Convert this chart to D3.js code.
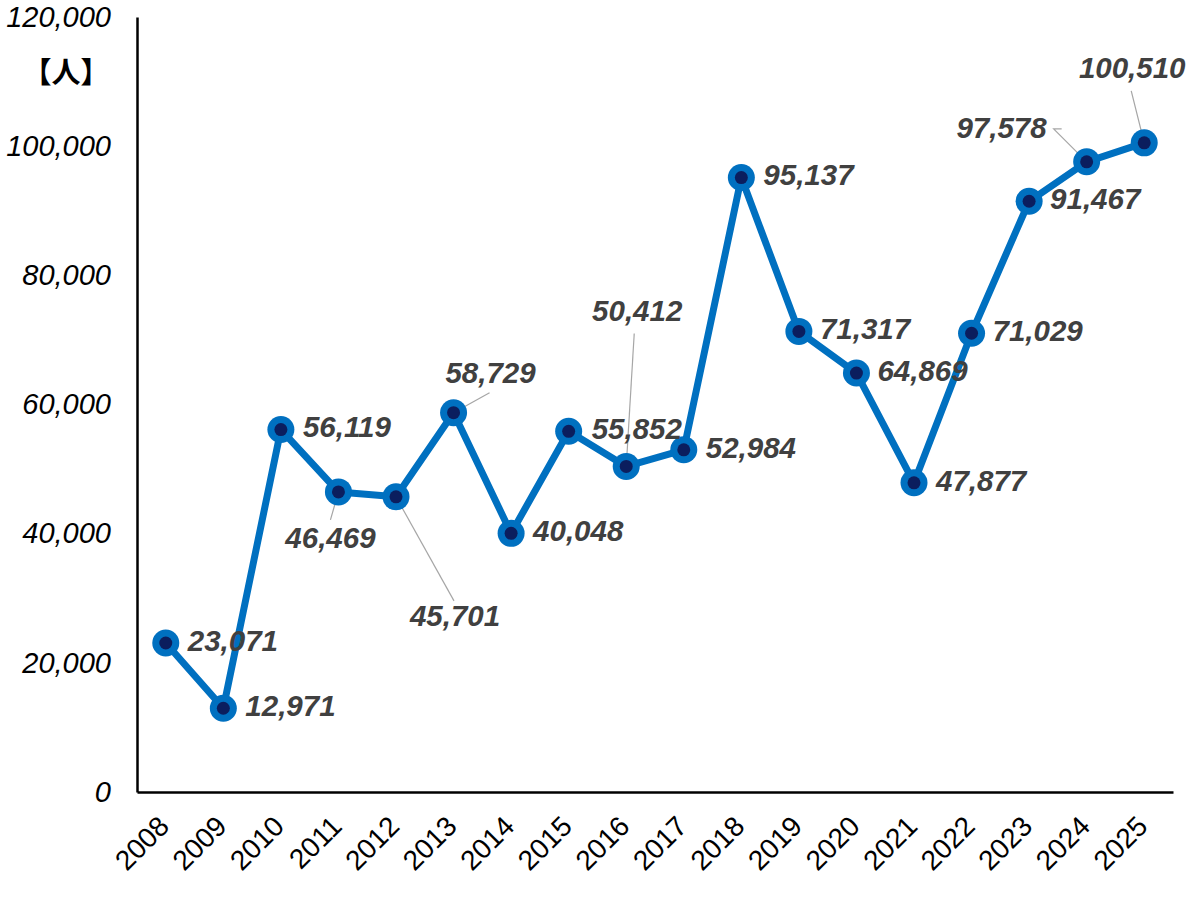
<!DOCTYPE html>
<html>
<head>
<meta charset="utf-8">
<script src="https://cdn.jsdelivr.net/npm/d3@7"></script>
<style>
  body { margin: 0; background: #fff; }
  svg { display: block; }
</style>
</head>
<body>
<div id="chart"></div>
<script>
const years = ["2008","2009","2010","2011","2012","2013","2014","2015","2016","2017","2018","2019","2020","2021","2022","2023","2024","2025"];
const visitors = [23071, 12971, 56119, 46469, 45701, 58729, 40048, 55852, 50412, 52984, 95137, 71317, 64869, 47877, 71029, 91467, 97578, 100510];
const yTicks = [0, 20000, 40000, 60000, 80000, 100000, 120000];
const unitLabel = "【人】";

// label placement, px offset from each point (layout only)
const labelPlace = [
  { dx: 22, dy: 0 }, { dx: 22, dy: 0 }, { dx: 22, dy: 0 },
  { dx: -8, dy: 48, anchor: "middle", leader: [-8, 28] },
  { dx: 59, dy: 121, anchor: "middle", leader: [58, 104] },
  { dx: 37, dy: -38, anchor: "middle", leader: [36, -20] },
  { dx: 22, dy: 0 }, { dx: 23, dy: 0 },
  { dx: 11, dy: -153, anchor: "middle", leader: [8, -133] },
  { dx: 22, dy: 0 }, { dx: 22, dy: 0 }, { dx: 21, dy: 0 }, { dx: 21, dy: 0 },
  { dx: 22, dy: 0 }, { dx: 21, dy: 0 }, { dx: 21, dy: 0 },
  { dx: -40, dy: -32, anchor: "end", leader: [-25, -33], elbow: [-33, -33] },
  { dx: -12, dy: -73, anchor: "middle", leader: [-13, -52] }
];

const width = 1200, height = 900,
  margin = ({ top: 17, right: 27, bottom: 108, left: 137 });

const svg = d3.select("#chart")
  .append("svg")
  .attr("width", width)
  .attr("height", height);

const x = d3.scaleBand()
  .domain(years)
  .range([margin.left, width - margin.right]);

const y = d3.scaleLinear()
  .domain([0, 120000])
  .range([height - margin.bottom, margin.top]);

const cx = d => x(d) + x.bandwidth() / 2;

// y axis
const yAxis = svg.append("g")
  .attr("transform", `translate(${margin.left},0)`)
  .call(d3.axisLeft(y).tickValues(yTicks).tickFormat(d3.format(",")).tickSize(0).tickPadding(26));
yAxis.select(".domain").attr("stroke", "#000").attr("stroke-width", 2.5);
yAxis.selectAll("text")
  .attr("font-family", "Liberation Sans, Arial, sans-serif")
  .attr("font-size", 29)
  .attr("font-style", "italic")
  .attr("fill", "#000");

// x axis
const xAxis = svg.append("g")
  .attr("transform", `translate(0,${height - margin.bottom})`)
  .call(d3.axisBottom(x).tickSize(0));
xAxis.select(".domain").attr("stroke", "#000").attr("stroke-width", 2.5);
xAxis.selectAll("text")
  .attr("font-family", "Liberation Sans, Arial, sans-serif")
  .attr("font-size", 28)
  .attr("fill", "#000")
  .attr("text-anchor", "end")
  .attr("x", 0)
  .attr("y", 0)
  .attr("dy", null)
  .attr("transform", "translate(5,36) rotate(-45)");

svg.append("text")
  .attr("x", 66)
  .attr("y", 75)
  .attr("text-anchor", "middle")
  .attr("dominant-baseline", "middle")
  .attr("font-family", "Noto Sans CJK JP, sans-serif")
  .attr("font-weight", "bold")
  .attr("font-size", 29)
  .text(unitLabel);

// line
const pts = years.map((yr, i) => ({ year: yr, value: visitors[i], place: labelPlace[i] }));

svg.append("path")
  .datum(pts)
  .attr("fill", "none")
  .attr("stroke", "#0070C0")
  .attr("stroke-width", 7)
  .attr("stroke-linejoin", "round")
  .attr("d", d3.line().x(d => cx(d.year)).y(d => y(d.value)));

// leader lines
svg.append("g")
  .selectAll("polyline")
  .data(pts.filter(d => d.place.leader))
  .join("polyline")
  .attr("fill", "none")
  .attr("stroke", "#a6a6a6")
  .attr("stroke-width", 1.2)
  .attr("points", d => {
    const px = cx(d.year), py = y(d.value);
    const p = [[px, py]];
    if (d.place.elbow) p.push([px + d.place.elbow[0], py + d.place.elbow[1]]);
    p.push([px + d.place.leader[0], py + d.place.leader[1]]);
    return p.map(q => q.join(",")).join(" ");
  });

// markers
svg.append("g")
  .selectAll("circle")
  .data(pts)
  .join("circle")
  .attr("cx", d => cx(d.year))
  .attr("cy", d => y(d.value))
  .attr("r", 13.5)
  .attr("fill", "#0070C0");

svg.append("g")
  .selectAll("circle")
  .data(pts)
  .join("circle")
  .attr("cx", d => cx(d.year))
  .attr("cy", d => y(d.value))
  .attr("r", 6.5)
  .attr("fill", "#0B1E5E");

// data labels
svg.append("g")
  .selectAll("text")
  .data(pts)
  .join("text")
  .attr("x", d => cx(d.year) + d.place.dx)
  .attr("y", d => y(d.value) + d.place.dy)
  .attr("text-anchor", d => d.place.anchor || "start")
  .attr("dominant-baseline", "middle")
  .attr("font-family", "Liberation Sans, Arial, sans-serif")
  .attr("font-size", 29.5)
  .attr("font-weight", "bold")
  .attr("font-style", "italic")
  .attr("fill", "#404040")
  .text(d => d3.format(",")(d.value));
</script>
</body>
</html>
